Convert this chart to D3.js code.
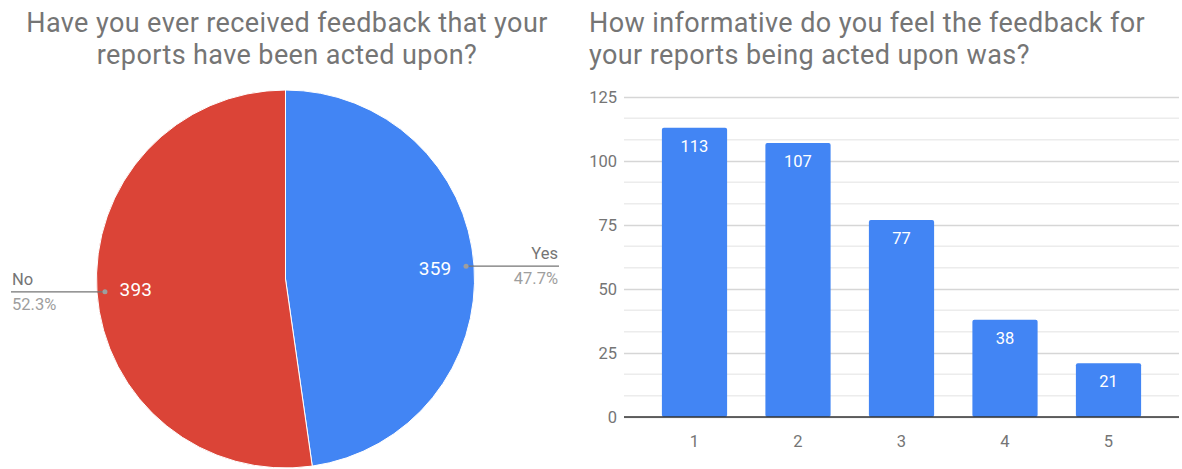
<!DOCTYPE html>
<html>
<head>
<meta charset="utf-8">
<script src="https://cdn.jsdelivr.net/npm/d3@7/dist/d3.min.js"></script>
<style>
  html, body { margin: 0; padding: 0; background: #fff; }
  svg { display: block; font-family: Roboto, "Noto Sans", sans-serif; }
</style>
</head>
<body>
<svg id="chart" width="1182" height="469"></svg>
<script>
// Pie: Have you ever received feedback that your reports have been acted upon?
const pieTitle = ["Have you ever received feedback that your", "reports have been acted upon?"];
const pieLabels = ["Yes", "No"];
const pieValues = [359, 393];
const pieColors = ["#4285f4", "#db4437"];

// Bars: How informative was the feedback
const barTitle = ["How informative do you feel the feedback for", "your reports being acted upon was?"];
const barCategories = ["1", "2", "3", "4", "5"];
const barValues = [113, 107, 77, 38, 21];
const yTicks = [0, 25, 50, 75, 100, 125];

const svg = d3.select("#chart");
const titleColor = "#757575";
const titleSize = 27, titleSpacing = 0.4;

// ---------- Pie chart ----------
const cx = 285.5, cy = 279, R = 189;

svg.append("text")
  .attr("x", 287).attr("y", 32)
  .attr("text-anchor", "middle")
  .attr("font-size", titleSize).attr("letter-spacing", titleSpacing).attr("fill", titleColor)
  .selectAll("tspan").data(pieTitle).join("tspan")
  .attr("x", 287).attr("dy", (d, i) => i === 0 ? 0 : 31.5)
  .text(d => d);

const total = d3.sum(pieValues);
const pie = d3.pie().sort(null).value(d => d.value);
const arcs = pie(pieLabels.map((l, i) => ({ label: l, value: pieValues[i], color: pieColors[i] })));

const gPie = svg.append("g").attr("transform", `translate(${cx},${cy})`);
const arc = d3.arc().innerRadius(0).outerRadius(R);
const valueArc = d3.arc().innerRadius(150).outerRadius(150);
const dotArc = d3.arc().innerRadius(181).outerRadius(181);

gPie.selectAll("path.slice").data(arcs).join("path")
  .attr("class", "slice")
  .attr("d", arc)
  .attr("fill", d => d.data.color)
  .attr("stroke", "#fff").attr("stroke-width", 1);

gPie.selectAll("text.val").data(arcs).join("text")
  .attr("class", "val")
  .attr("transform", d => `translate(${valueArc.centroid(d)})`)
  .attr("text-anchor", "middle")
  .attr("dy", "0.36em")
  .attr("font-size", 19).attr("letter-spacing", 0.3).attr("fill", "#fff")
  .text(d => d.data.value);

// Leader lines and legend labels
arcs.forEach(d => {
  const [dx, dy] = dotArc.centroid(d);
  const right = dx > 0;
  const endX = right ? 559 - cx : 11 - cx;
  gPie.append("line")
    .attr("x1", dx).attr("y1", dy).attr("x2", endX).attr("y2", dy)
    .attr("stroke", "#757575").attr("stroke-width", 1.2);
  gPie.append("circle")
    .attr("cx", dx).attr("cy", dy).attr("r", 2.5)
    .attr("fill", "#9e9e9e");
  const anchor = right ? "end" : "start";
  const tx = right ? 558 - cx : 12 - cx;
  gPie.append("text")
    .attr("x", tx).attr("y", dy - 7)
    .attr("text-anchor", anchor)
    .attr("font-size", 16.5).attr("fill", "#757575")
    .text(d.data.label);
  gPie.append("text")
    .attr("x", tx).attr("y", dy + 18)
    .attr("text-anchor", anchor)
    .attr("font-size", 16.5).attr("fill", "#9e9e9e")
    .text((d.data.value / total * 100).toFixed(1) + "%");
});

// ---------- Bar chart ----------
svg.append("text")
  .attr("x", 589).attr("y", 32)
  .attr("font-size", titleSize).attr("letter-spacing", titleSpacing).attr("fill", titleColor)
  .selectAll("tspan").data(barTitle).join("tspan")
  .attr("x", 589).attr("dy", (d, i) => i === 0 ? 0 : 31.5)
  .text(d => d);

const plotLeft = 624, plotRight = 1179;
const y = d3.scaleLinear().domain([0, 125]).range([417, 97]);
const x = d3.scaleBand().domain(barCategories)
  .range([642.75, 1160.25]).paddingInner(0.37).paddingOuter(0.185);

// Minor gridlines (thirds of each major step)
const minor = [];
for (let i = 0; i < yTicks.length - 1; i++) {
  const step = (yTicks[i + 1] - yTicks[i]) / 3;
  minor.push(yTicks[i] + step, yTicks[i] + 2 * step);
}
svg.append("g").selectAll("line").data(minor).join("line")
  .attr("x1", plotLeft).attr("x2", plotRight)
  .attr("y1", d => y(d)).attr("y2", d => y(d))
  .attr("stroke", "#ececec").attr("stroke-width", 1.5);

// Major gridlines and labels via d3 axis
const yAxis = d3.axisLeft(y).tickValues(yTicks).tickSize(-(plotRight - plotLeft)).tickPadding(7);
const gy = svg.append("g").attr("transform", `translate(${plotLeft},0)`).call(yAxis);
gy.select(".domain").remove();
gy.selectAll(".tick line").attr("stroke", "#d6d6d6").attr("stroke-width", 1.5);
gy.selectAll(".tick text").attr("font-size", 16.5).attr("fill", "#757575")
  .attr("font-family", "Roboto, sans-serif");

// Bars
svg.append("g").selectAll("rect").data(barValues).join("rect")
  .attr("x", (d, i) => x(barCategories[i]))
  .attr("y", d => y(d))
  .attr("width", x.bandwidth())
  .attr("height", d => y(0) - y(d))
  .attr("rx", 2)
  .attr("fill", "#4285f4");

// Bar value labels
svg.append("g").selectAll("text").data(barValues).join("text")
  .attr("x", (d, i) => x(barCategories[i]) + x.bandwidth() / 2)
  .attr("y", d => y(d) + 24)
  .attr("text-anchor", "middle")
  .attr("font-size", 16.5).attr("fill", "#fff")
  .text(d => d);

// Baseline and category axis
const xAxis = d3.axisBottom(x).tickSize(0).tickPadding(18);
const gx = svg.append("g").attr("transform", `translate(0,${y(0)})`).call(xAxis);
gx.select(".domain").remove();
gx.selectAll(".tick text").attr("font-size", 16.5).attr("fill", "#757575")
  .attr("font-family", "Roboto, sans-serif");
svg.append("line")
  .attr("x1", plotLeft).attr("x2", plotRight)
  .attr("y1", y(0)).attr("y2", y(0))
  .attr("stroke", "#333").attr("stroke-width", 1.5);
</script>
</body>
</html>
